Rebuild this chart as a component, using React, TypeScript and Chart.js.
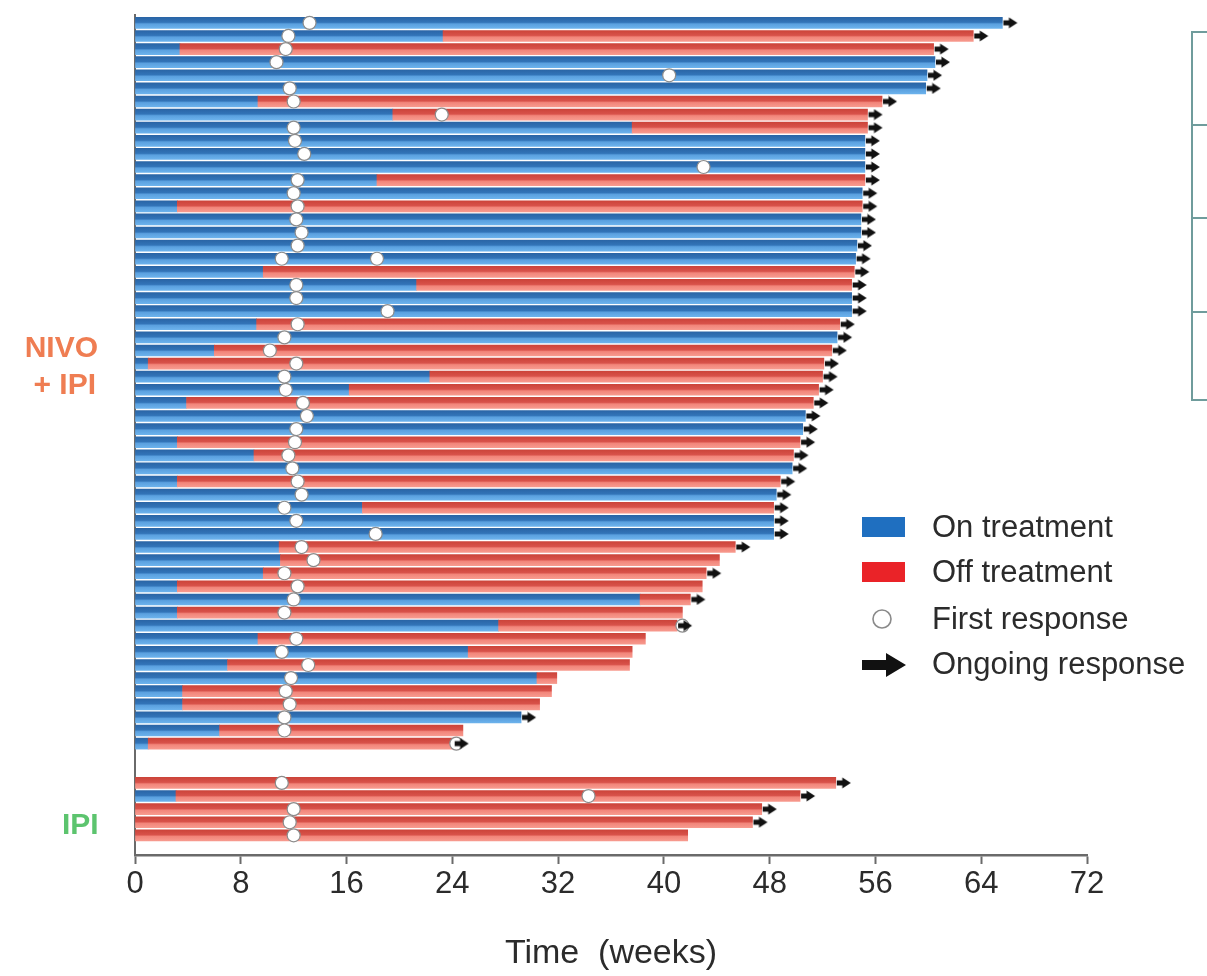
import React, { useEffect, useRef } from 'react';
import { Chart, registerables } from 'chart.js';

Chart.register(...registerables);

// ---- Data (weeks) ----
// NIVO + IPI group, one entry per patient (top to bottom)
const nivoOnTreatment = [
  65.6, 23.3, 3.4, 60.5, 59.9, 59.8, 9.3, 19.5, 37.6, 55.2,
  55.2, 55.2, 18.3, 55.0, 3.2, 54.9, 54.9, 54.6, 54.5, 9.7,
  21.3, 54.2, 54.2, 9.2, 53.1, 6.0, 1.0, 22.3, 16.2, 3.9,
  50.7, 50.5, 3.2, 9.0, 49.7, 3.2, 48.5, 17.2, 48.3, 48.3,
  10.9, 11.0, 9.7, 3.2, 38.2, 3.2, 27.5, 9.3, 25.2, 7.0,
  30.4, 3.6, 3.6, 29.2, 6.4, 1.0,
];
const nivoTotal = [
  65.6, 63.4, 60.4, 60.5, 59.9, 59.8, 56.5, 55.4, 55.4, 55.2,
  55.2, 55.2, 55.2, 55.0, 55.0, 54.9, 54.9, 54.6, 54.5, 54.4,
  54.2, 54.2, 54.2, 53.3, 53.1, 52.7, 52.1, 52.0, 51.7, 51.3,
  50.7, 50.5, 50.3, 49.8, 49.7, 48.8, 48.5, 48.3, 48.3, 48.3,
  45.4, 44.2, 43.2, 42.9, 42.0, 41.4, 41.0, 38.6, 37.6, 37.4,
  31.9, 31.5, 30.6, 29.2, 24.8, 24.1,
];
const nivoFirstResponse = [
  13.2, 11.6, 11.4, 10.7, 40.4, 11.7, 12.0, 23.2, 12.0, 12.1,
  12.8, 43.0, 12.3, 12.0, 12.3, 12.2, 12.6, 12.3, 11.1, null,
  12.2, 12.2, 19.1, 12.3, 11.3, 10.2, 12.2, 11.3, 11.4, 12.7,
  13.0, 12.2, 12.1, 11.6, 11.9, 12.3, 12.6, 11.3, 12.2, 18.2,
  12.6, 13.5, 11.3, 12.3, 12.0, 11.3, 41.4, 12.2, 11.1, 13.1,
  11.8, 11.4, 11.7, 11.3, 11.3, 24.3,
];
const nivoExtraResponseRow = [18];
const nivoExtraResponseWeek = [18.3];
const nivoOngoing = [
  1, 1, 1, 1, 1, 1, 1, 1, 1, 1,
  1, 1, 1, 1, 1, 1, 1, 1, 1, 1,
  1, 1, 1, 1, 1, 1, 1, 1, 1, 1,
  1, 1, 1, 1, 1, 1, 1, 1, 1, 1,
  1, 0, 1, 0, 1, 0, 1, 0, 0, 0,
  0, 0, 0, 1, 0, 1,
];

// IPI group
const ipiOnTreatment = [0, 3.1, 0, 0, 0];
const ipiTotal = [53.0, 50.3, 47.4, 46.7, 41.8];
const ipiFirstResponse = [11.1, 34.3, 12.0, 11.7, 12.0];
const ipiOngoing = [1, 1, 1, 1, 0];

const xTickValues = [0, 8, 16, 24, 32, 40, 48, 56, 64, 72];

const IPI_START_ROW = nivoTotal.length + 2;

type Row = { row: number; on: number; total: number; resp: number | null; ongoing: number };

function buildRows(): Row[] {
  const rows: Row[] = [];
  nivoTotal.forEach((t, i) =>
    rows.push({ row: i, on: nivoOnTreatment[i], total: t, resp: nivoFirstResponse[i], ongoing: nivoOngoing[i] })
  );
  ipiTotal.forEach((t, i) =>
    rows.push({ row: IPI_START_ROW + i, on: ipiOnTreatment[i], total: t, resp: ipiFirstResponse[i], ongoing: ipiOngoing[i] })
  );
  return rows;
}

function makeArrowCanvas(): HTMLCanvasElement {
  const c = document.createElement('canvas');
  c.width = 32;
  c.height = 12;
  const g = c.getContext('2d')!;
  g.fillStyle = '#111';
  g.fillRect(17, 3.5, 7, 5);
  g.beginPath();
  g.moveTo(22.5, 0.5);
  g.lineTo(31, 6);
  g.lineTo(22.5, 11.5);
  g.closePath();
  g.fill();
  return c;
}

function gradientFill(stops: [number, string][]) {
  return (ctx: any) => {
    const chart = ctx.chart;
    const ys = chart.scales && chart.scales.y;
    if (ctx.type !== 'data' || !ys || !ctx.raw) return stops[1][1];
    const py = ys.getPixelForValue(ctx.raw.y);
    if (!isFinite(py)) return stops[1][1];
    const g = chart.ctx.createLinearGradient(0, py - 5.5, 0, py + 5.5);
    stops.forEach(([o, c]) => g.addColorStop(o, c));
    return g;
  };
}

const blueStops: [number, string][] = [
  [0, '#2a65a6'],
  [0.45, '#3274b8'],
  [0.6, '#5aa0df'],
  [1, '#6cb2ec'],
];
const redStops: [number, string][] = [
  [0, '#cc443a'],
  [0.45, '#d8524a'],
  [0.6, '#f2857a'],
  [1, '#f79a8e'],
];

export default function App() {
  const canvasRef = useRef<HTMLCanvasElement | null>(null);

  useEffect(() => {
    if (!canvasRef.current) return;
    const rows = buildRows();
    const onData = rows.filter((r) => r.on > 0).map((r) => ({ x: [0, r.on], y: r.row }));
    const offData = rows.filter((r) => r.total > r.on).map((r) => ({ x: [r.on, r.total], y: r.row }));
    const respData = rows.filter((r) => r.resp != null).map((r) => ({ x: r.resp as number, y: r.row }));
    nivoExtraResponseRow.forEach((rw, k) => respData.push({ x: nivoExtraResponseWeek[k], y: rw }));
    const arrowData = rows.filter((r) => r.ongoing).map((r) => ({ x: r.total, y: r.row }));
    const arrowImg = makeArrowCanvas();

    const chart = new Chart(canvasRef.current, {
      type: 'bar',
      data: {
        datasets: [
          {
            type: 'bar',
            label: 'On treatment',
            data: onData as any,
            backgroundColor: gradientFill(blueStops) as any,
            borderWidth: 0,
            barThickness: 11,
            grouped: false,
            order: 4,
          },
          {
            type: 'bar',
            label: 'Off treatment',
            data: offData as any,
            backgroundColor: gradientFill(redStops) as any,
            borderWidth: 0,
            barThickness: 11,
            grouped: false,
            order: 3,
          },
          {
            type: 'scatter',
            label: 'First response',
            data: respData as any,
            pointStyle: 'circle',
            pointRadius: 6.5,
            pointBackgroundColor: '#ffffff',
            pointBorderColor: '#8c8c8c',
            pointBorderWidth: 1.2,
            order: 2,
          } as any,
          {
            type: 'scatter',
            label: 'Ongoing response',
            data: arrowData as any,
            pointStyle: arrowImg as any,
            pointRadius: 8,
            order: 1,
          } as any,
        ],
      },
      options: {
        indexAxis: 'y',
        animation: false,
        responsive: false,
        maintainAspectRatio: false,
        events: [],
        layout: { padding: { left: 135, right: 120, top: 15, bottom: 0 } },
        plugins: {
          legend: { display: false },
          tooltip: { enabled: false },
        },
        scales: {
          x: {
            type: 'linear',
            position: 'bottom',
            min: 0,
            max: 72,
            afterBuildTicks: (s: any) => {
              s.ticks = xTickValues.map((v) => ({ value: v }));
            },
            ticks: {
              color: '#2b2b2b',
              font: { family: 'Liberation Sans, Arial, sans-serif', size: 31 },
              padding: 2,
              maxRotation: 0,
              autoSkip: false,
            },
            grid: {
              display: true,
              drawOnChartArea: false,
              drawTicks: true,
              tickLength: 9,
              tickColor: '#6a6a6a',
              tickWidth: 2,
            },
            border: { display: true, color: '#6a6a6a', width: 2.5 },
            title: {
              display: true,
              text: 'Time  (weeks)',
              color: '#2b2b2b',
              font: { family: 'Liberation Sans, Arial, sans-serif', size: 34 },
              padding: { top: 0, bottom: 2 },
            },
            afterFit: (s: any) => {
              s.height = 121;
            },
          },
          y: {
            type: 'linear',
            reverse: true,
            min: -0.6,
            max: 63.5,
            offset: false,
            ticks: { display: false },
            grid: { display: false, drawTicks: false },
            border: { display: true, color: '#6a6a6a', width: 2 },
            afterFit: (s: any) => {
              s.width = 0;
            },
          },
        },
      } as any,
    });
    return () => chart.destroy();
  }, []);

  const legendText: React.CSSProperties = {
    position: 'absolute',
    left: 932,
    fontFamily: 'Liberation Sans, Arial, sans-serif',
    fontSize: 31,
    color: '#2b2b2b',
    lineHeight: '30px',
    whiteSpace: 'nowrap',
  };
  const tableLine = '#6f9c9c';

  return (
    <div
      style={{
        position: 'fixed',
        left: 0,
        top: 0,
        width: 1207,
        height: 976,
        background: '#ffffff',
        overflow: 'hidden',
      }}
    >
      <canvas ref={canvasRef} width={1207} height={976} style={{ display: 'block', width: 1207, height: 976 }} />

      {/* group labels */}
      <div
        style={{
          position: 'absolute',
          left: 0,
          width: 118,
          top: 328,
          textAlign: 'right',
          fontFamily: 'Liberation Sans, Arial, sans-serif',
          fontWeight: 'bold',
          fontSize: 30,
          lineHeight: '37px',
          color: '#ef7d52',
        }}
      >
        <div style={{ paddingRight: 20 }}>NIVO</div>
        <div style={{ paddingRight: 22 }}>+ IPI</div>
      </div>
      <div
        style={{
          position: 'absolute',
          left: 62,
          top: 805,
          fontFamily: 'Liberation Sans, Arial, sans-serif',
          fontWeight: 'bold',
          fontSize: 30,
          lineHeight: '37px',
          color: '#5cc46e',
        }}
      >
        IPI
      </div>

      {/* legend */}
      <div style={{ position: 'absolute', left: 862, top: 517, width: 43, height: 20, background: '#1f6fc0' }} />
      <div style={{ ...legendText, top: 512 }}>On treatment</div>
      <div style={{ position: 'absolute', left: 862, top: 562, width: 43, height: 20, background: '#ea2328' }} />
      <div style={{ ...legendText, top: 557 }}>Off treatment</div>
      <svg style={{ position: 'absolute', left: 870, top: 607 }} width={24} height={24}>
        <circle cx={12} cy={12} r={9} fill="#ffffff" stroke="#8a8a8a" strokeWidth={1.6} />
      </svg>
      <div style={{ ...legendText, top: 604 }}>First response</div>
      <svg style={{ position: 'absolute', left: 860, top: 652 }} width={48} height={26}>
        <polygon points="2,8 26,8 26,1 46,13 26,25 26,18 2,18" fill="#111111" />
      </svg>
      <div style={{ ...legendText, top: 649 }}>Ongoing response</div>

      {/* partial table at right edge */}
      <div style={{ position: 'absolute', left: 1191, top: 31, width: 2, height: 370, background: tableLine }} />
      {[31, 124, 217, 311, 399].map((t) => (
        <div key={t} style={{ position: 'absolute', left: 1191, top: t, width: 20, height: 2, background: tableLine }} />
      ))}
    </div>
  );
}
